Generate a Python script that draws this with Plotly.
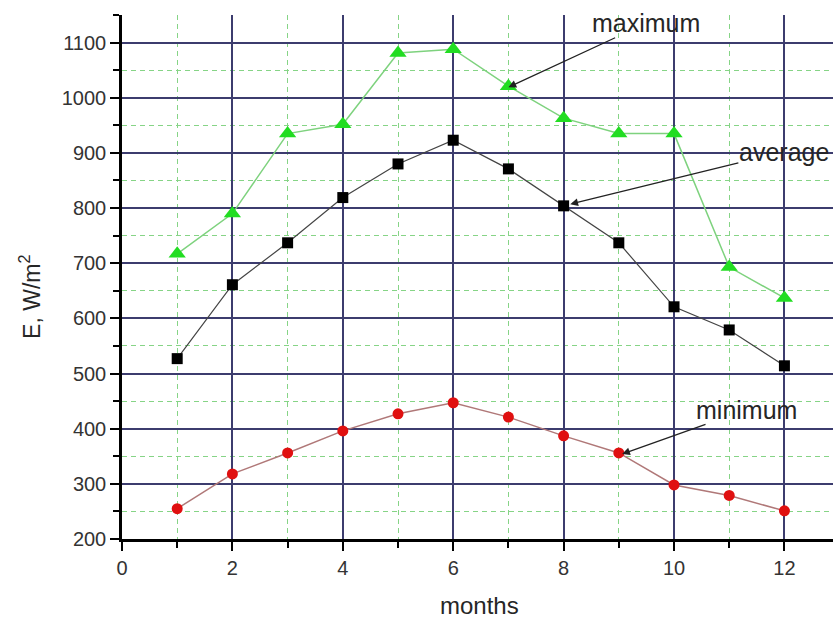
import plotly.graph_objects as go

months = [1, 2, 3, 4, 5, 6, 7, 8, 9, 10, 11, 12]
maximum = [717, 790, 935, 952, 1081, 1088, 1021, 963, 935, 935, 693, 637]
average = [527, 661, 737, 819, 880, 923, 871, 804, 737, 621, 579, 514]
minimum = [255, 318, 356, 396, 427, 447, 421, 387, 356, 298, 279, 251]

label_texts = ["maximum", "average", "minimum"]
label_x = [9.5, 11.99, 11.31]
label_y = [1135, 902, 434]
arrow_x = [7.0, 8.12, 9.06]
arrow_y = [1019, 807, 354]

font_family = "Liberation Sans, Arial, sans-serif"
text_color = "#262626"

fig = go.Figure()
fig.add_trace(go.Scatter(x=months, y=maximum, mode="lines+markers", name="maximum",
                         line=dict(color="#7ED27E", width=1.5),
                         marker=dict(symbol="triangle-up", size=15, color="#22DD22")))
fig.add_trace(go.Scatter(x=months, y=average, mode="lines+markers", name="average",
                         line=dict(color="#444444", width=1.2),
                         marker=dict(symbol="square", size=11, color="#000000")))
fig.add_trace(go.Scatter(x=months, y=minimum, mode="lines+markers", name="minimum",
                         line=dict(color="#B07878", width=1.5),
                         marker=dict(symbol="circle", size=11, color="#E01010")))

annotations = []
for t, tx, ty, hx, hy in zip(label_texts, label_x, label_y, arrow_x, arrow_y):
    annotations.append(dict(x=hx, y=hy, ax=tx, ay=ty, xref="x", yref="y",
                            axref="x", ayref="y", text=t, showarrow=True, arrowhead=2,
                            arrowsize=1.2, arrowwidth=1.3, arrowcolor="#222222",
                            xanchor="center", yanchor="middle", borderpad=0,
                            font=dict(size=25, color=text_color, family=font_family)))
annotations += [
    dict(x=0, y=0.462, xref="paper", yref="paper", xshift=-92, xanchor="center",
         yanchor="middle", text="E, W/m<sup>2</sup>", textangle=-90, showarrow=False,
         font=dict(size=23, color=text_color, family=font_family)),
    dict(x=0.5035, y=0, xref="paper", yref="paper", yshift=-66, xanchor="center",
         yanchor="middle", text="months", showarrow=False,
         font=dict(size=24, color=text_color, family=font_family)),
]

fig.update_layout(
    width=833, height=619,
    margin=dict(l=122, r=0, t=15, b=80),
    paper_bgcolor="white", plot_bgcolor="white",
    showlegend=False,
    font=dict(family=font_family, size=20, color="#333333"),
    annotations=annotations,
)
fig.update_xaxes(range=[0, 12.88], tickmode="linear", tick0=0, dtick=2,
                 showline=True, linecolor="black", linewidth=2.5,
                 ticks="outside", ticklen=9, tickwidth=2, tickcolor="black",
                 showgrid=True, gridcolor="#3C3C6E", gridwidth=1.5, zeroline=False,
                 minor=dict(dtick=1, tick0=0, ticks="outside", ticklen=6, tickwidth=1.5,
                            tickcolor="black", showgrid=True, gridcolor="#86D486",
                            gridwidth=1.2, griddash="5px,4px"))
fig.update_yaxes(range=[200, 1150], tickmode="linear", tick0=200, dtick=100,
                 showline=True, linecolor="black", linewidth=2.5,
                 ticks="outside", ticklen=9, tickwidth=2, tickcolor="black",
                 showgrid=True, gridcolor="#3C3C6E", gridwidth=1.5, zeroline=False,
                 minor=dict(dtick=50, tick0=200, ticks="outside", ticklen=6, tickwidth=1.5,
                            tickcolor="black", showgrid=True, gridcolor="#86D486",
                            gridwidth=1.2, griddash="5px,4px"))

fig.write_html("out.html", config={"displayModeBar": False},
               post_script="document.body.style.margin='0';document.body.style.overflow='hidden';")
